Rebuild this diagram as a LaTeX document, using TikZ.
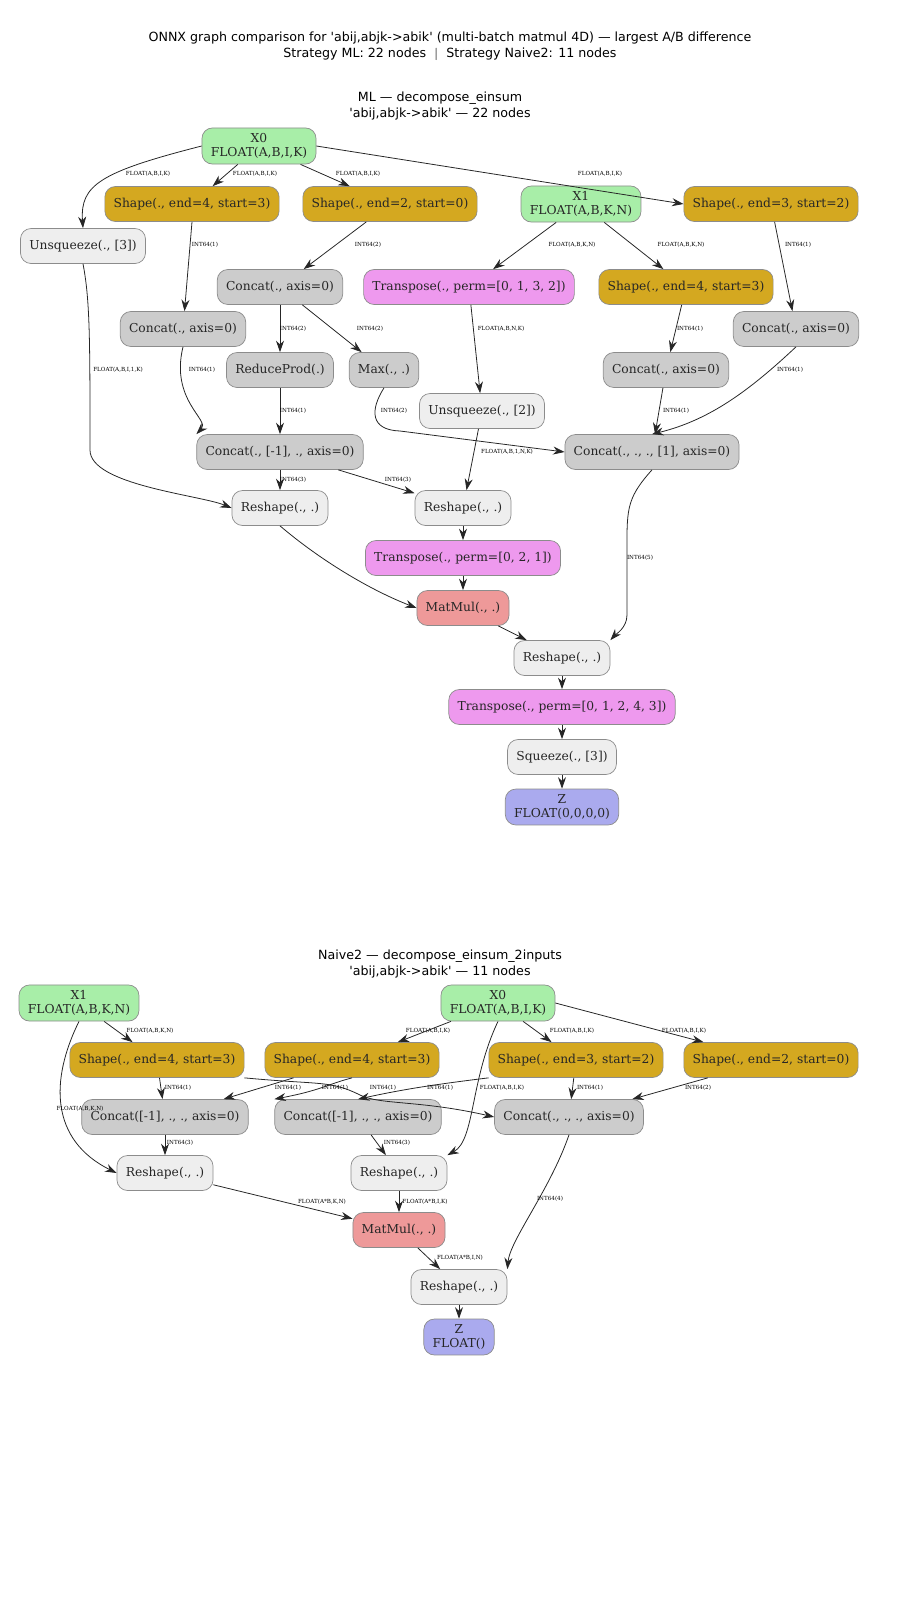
\documentclass[tikz,border=0pt]{standalone}
\usepackage{fontspec}
\setmainfont{DejaVu Serif}
\newfontfamily\titlefont{DejaVu Sans}
\usetikzlibrary{arrows.meta}
\definecolor{cin}{HTML}{A8EEA8}
\definecolor{cshape}{HTML}{D4A820}
\definecolor{ccat}{HTML}{CCCCCC}
\definecolor{clight}{HTML}{EEEEEE}
\definecolor{cperm}{HTML}{EE99EE}
\definecolor{cmm}{HTML}{EE9999}
\definecolor{cout}{HTML}{AAAAEE}
\newcommand{\elab}[2]{\node[lbl] at (#1) {#2};}
\begin{document}
\begin{tikzpicture}
[
x=0.02cm, y=-0.02cm,
op/.style={draw=black!45, rounded corners=6pt, minimum height=0.7cm, inner xsep=5pt,
  font=\fontsize{7}{7.6}\selectfont, align=center, text=black!85},
op-in/.style={op, fill=cin},
op-shape/.style={op, fill=cshape},
op-cat/.style={op, fill=ccat},
op-light/.style={op, fill=clight},
op-perm/.style={op, fill=cperm},
op-mm/.style={op, fill=cmm},
op-out/.style={op, fill=cout},
lbl/.style={font=\fontsize{3.2}{3.6}\selectfont, inner sep=0pt},
ttl/.style={font=\titlefont\fontsize{7.2}{8.8}\selectfont, align=center},
arr/.style={-{Stealth[length=2.3mm,width=1.6mm]}, black!85, line width=0.45pt}
]
\useasboundingbox (0,0) rectangle (900,1600);
\node[ttl] (title) at (450,46) {ONNX graph comparison for 'abij,abjk->abik' (multi-batch matmul 4D) — largest A/B difference\\Strategy ML: 22 nodes \ $|$ \ Strategy Naive2: 11 nodes};
\node[ttl] (sub-ml) at (440,106) {ML — decompose\_einsum\\'abij,abjk->abik' — 22 nodes};
\node[ttl] (sub-nv) at (440,964) {Naive2 — decompose\_einsum\_2inputs\\'abij,abjk->abik' — 11 nodes};
% strategy ML
\node (ml-x0)    [op-in]    at (259,146) {X0\\FLOAT(A,B,I,K)};
\node (ml-s43a)  [op-shape] at (192,204) {Shape(., end=4, start=3)};
\node (ml-s20)   [op-shape] at (390,204) {Shape(., end=2, start=0)};
\node (ml-x1)    [op-in]    at (581,204) {X1\\FLOAT(A,B,K,N)};
\node (ml-s32)   [op-shape] at (771,204) {Shape(., end=3, start=2)};
\node (ml-unsq3) [op-light] at (83,246)  {Unsqueeze(., [3])};
\node (ml-cat0a) [op-cat]   at (280,287) {Concat(., axis=0)};
\node (ml-tr1)   [op-perm]  at (469,287) {Transpose(., perm=[0, 1, 3, 2])};
\node (ml-s43b)  [op-shape] at (686,287) {Shape(., end=4, start=3)};
\node (ml-cat0b) [op-cat]   at (183,329) {Concat(., axis=0)};
\node (ml-cat0c) [op-cat]   at (796,329) {Concat(., axis=0)};
\node (ml-rp)    [op-cat]   at (280,370) {ReduceProd(.)};
\node (ml-max)   [op-cat]   at (384,370) {Max(., .)};
\node (ml-cat0d) [op-cat]   at (666,370) {Concat(., axis=0)};
\node (ml-unsq2) [op-light] at (482,411) {Unsqueeze(., [2])};
\node (ml-catm)  [op-cat]   at (280,452) {Concat(., [-1], ., axis=0)};
\node (ml-catr)  [op-cat]   at (652,452) {Concat(., ., ., [1], axis=0)};
\node (ml-rs1)   [op-light] at (280,508) {Reshape(., .)};
\node (ml-rs2)   [op-light] at (463,508) {Reshape(., .)};
\node (ml-tr2)   [op-perm]  at (463,558) {Transpose(., perm=[0, 2, 1])};
\node (ml-mm)    [op-mm]    at (463,608) {MatMul(., .)};
\node (ml-rs3)   [op-light] at (562,658) {Reshape(., .)};
\node (ml-tr3)   [op-perm]  at (562,707) {Transpose(., perm=[0, 1, 2, 4, 3])};
\node (ml-sq)    [op-light] at (562,757) {Squeeze(., [3])};
\node (ml-z)     [op-out]   at (562,807) {Z\\FLOAT(0,0,0,0)};
\draw[arr] (ml-x0.west) .. controls (100,172) and (80,185) .. (ml-unsq3.north);
\draw[arr] (ml-x0) -- (ml-s43a);
\draw[arr] (ml-x0) -- (ml-s20);
\draw[arr] (ml-x0.east) -- (ml-s32.west);
\draw[arr] (ml-s43a.south) -- (ml-cat0b);
\draw[arr] (ml-s20) -- (ml-cat0a);
\draw[arr] (ml-x1) -- (ml-tr1);
\draw[arr] (ml-x1) -- (ml-s43b);
\draw[arr] (ml-s32) -- (ml-cat0c);
\draw[arr] (ml-cat0a) -- (ml-rp);
\draw[arr] (ml-cat0a) -- (ml-max);
\draw[arr] (ml-tr1) -- (ml-unsq2);
\draw[arr] (ml-s43b) -- (ml-cat0d);
\draw[arr] (ml-cat0b.south) .. controls (170,400) and (210,420) .. (ml-catm.north west);
\draw[arr] (ml-cat0c.south) .. controls (750,390) and (710,420) .. (ml-catr.north);
\draw[arr] (ml-rp) -- (ml-catm);
\draw[arr] (ml-max.south) .. controls (370,410) and (370,430) .. (400,431) -- (ml-catr.west);
\draw[arr] (ml-cat0d) -- (ml-catr);
\draw[arr] (ml-unsq3.south) .. controls (90,300) and (90,340) .. (90,450) .. controls (90,485) and (200,495) .. (ml-rs1.west);
\draw[arr] (ml-unsq2) -- (ml-rs2);
\draw[arr] (ml-catm) -- (ml-rs1);
\draw[arr] (ml-catm) -- (ml-rs2);
\draw[arr] (ml-catr.south) .. controls (625,500) and (627,510) .. (627,560) -- (627,615) .. controls (627,628) and (615,635) .. (ml-rs3.north east);
\draw[arr] (ml-rs1.south) .. controls (320,560) and (370,590) .. (ml-mm.west);
\draw[arr] (ml-rs2) -- (ml-tr2);
\draw[arr] (ml-tr2) -- (ml-mm);
\draw[arr] (ml-mm) -- (ml-rs3);
\draw[arr] (ml-rs3) -- (ml-tr3);
\draw[arr] (ml-tr3) -- (ml-sq);
\draw[arr] (ml-sq) -- (ml-z);
\elab{148,174}{FLOAT(A,B,I,K)}
\elab{255,174}{FLOAT(A,B,I,K)}
\elab{358,174}{FLOAT(A,B,I,K)}
\elab{600,174}{FLOAT(A,B,I,K)}
\elab{205,245}{INT64(1)}
\elab{368,245}{INT64(2)}
\elab{572,245}{FLOAT(A,B,K,N)}
\elab{681,245}{FLOAT(A,B,K,N)}
\elab{798,245}{INT64(1)}
\elab{293,329}{INT64(2)}
\elab{370,329}{INT64(2)}
\elab{501,329}{FLOAT(A,B,N,K)}
\elab{690,329}{INT64(1)}
\elab{202,370}{INT64(1)}
\elab{790,370}{INT64(1)}
\elab{118,370}{FLOAT(A,B,I,1,K)}
\elab{293,411}{INT64(1)}
\elab{394,411}{INT64(2)}
\elab{676,411}{INT64(1)}
\elab{507,452}{FLOAT(A,B,1,N,K)}
\elab{293,480}{INT64(3)}
\elab{398,480}{INT64(3)}
\elab{640,558}{INT64(5)}
% strategy Naive2
\node (nv-x1)  [op-in]    at (79,1003)  {X1\\FLOAT(A,B,K,N)};
\node (nv-x0)  [op-in]    at (498,1003) {X0\\FLOAT(A,B,I,K)};
\node (nv-sa)  [op-shape] at (157,1060) {Shape(., end=4, start=3)};
\node (nv-sb)  [op-shape] at (352,1060) {Shape(., end=4, start=3)};
\node (nv-sc)  [op-shape] at (576,1060) {Shape(., end=3, start=2)};
\node (nv-sd)  [op-shape] at (771,1060) {Shape(., end=2, start=0)};
\node (nv-ca)  [op-cat]   at (165,1117) {Concat([-1], ., ., axis=0)};
\node (nv-cb)  [op-cat]   at (358,1117) {Concat([-1], ., ., axis=0)};
\node (nv-cc)  [op-cat]   at (569,1117) {Concat(., ., ., axis=0)};
\node (nv-ra)  [op-light] at (165,1173) {Reshape(., .)};
\node (nv-rb)  [op-light] at (399,1173) {Reshape(., .)};
\node (nv-mm)  [op-mm]    at (399,1230) {MatMul(., .)};
\node (nv-rc)  [op-light] at (459,1287) {Reshape(., .)};
\node (nv-z)   [op-out]   at (459,1337) {Z\\FLOAT()};
\draw[arr] (nv-x1) -- (nv-sa);
\draw[arr] (nv-x1.south) .. controls (50,1080) and (50,1140) .. (nv-ra.west);
\draw[arr] (nv-x0) -- (nv-sb);
\draw[arr] (nv-x0) -- (nv-sc);
\draw[arr] (nv-x0.east) -- (nv-sd);
\draw[arr] (nv-x0.south) .. controls (470,1080) and (475,1140) .. (nv-rb.north east);
\draw[arr] (nv-sa) -- (nv-ca);
\draw[arr] (nv-sa.south east) .. controls (320,1085) and (330,1080) .. (360,1095) .. controls (380,1105) and (420,1100) .. (nv-cc.west);
\draw[arr] (nv-sb) -- (nv-ca);
\draw[arr] (nv-sb.south) .. controls (325,1085) and (322,1090) .. (nv-cb.north west);
\draw[arr] (nv-sc.south west) .. controls (430,1085) and (400,1090) .. (nv-cb.north);
\draw[arr] (nv-sc) -- (nv-cc);
\draw[arr] (nv-sd) -- (nv-cc);
\draw[arr] (nv-ca) -- (nv-ra);
\draw[arr] (nv-cb) -- (nv-rb);
\draw[arr] (nv-cc.south) .. controls (550,1190) and (510,1240) .. (nv-rc.north east);
\draw[arr] (nv-ra) -- (nv-mm);
\draw[arr] (nv-rb) -- (nv-mm);
\draw[arr] (nv-mm) -- (nv-rc);
\draw[arr] (nv-rc) -- (nv-z);
\elab{150,1031}{FLOAT(A,B,K,N)}
\elab{80,1109}{FLOAT(A,B,K,N)}
\elab{428,1031}{FLOAT(A,B,I,K)}
\elab{572,1031}{FLOAT(A,B,I,K)}
\elab{684,1031}{FLOAT(A,B,I,K)}
\elab{502,1088}{FLOAT(A,B,I,K)}
\elab{178,1088}{INT64(1)}
\elab{288,1088}{INT64(1)}
\elab{335,1088}{INT64(1)}
\elab{383,1088}{INT64(1)}
\elab{440,1088}{INT64(1)}
\elab{590,1088}{INT64(1)}
\elab{698,1088}{INT64(2)}
\elab{180,1143}{INT64(3)}
\elab{397,1143}{INT64(3)}
\elab{550,1199}{INT64(4)}
\elab{322,1202}{FLOAT(A*B,K,N)}
\elab{425,1202}{FLOAT(A*B,I,K)}
\elab{460,1258}{FLOAT(A*B,I,N)}
\end{tikzpicture}
\end{document}
